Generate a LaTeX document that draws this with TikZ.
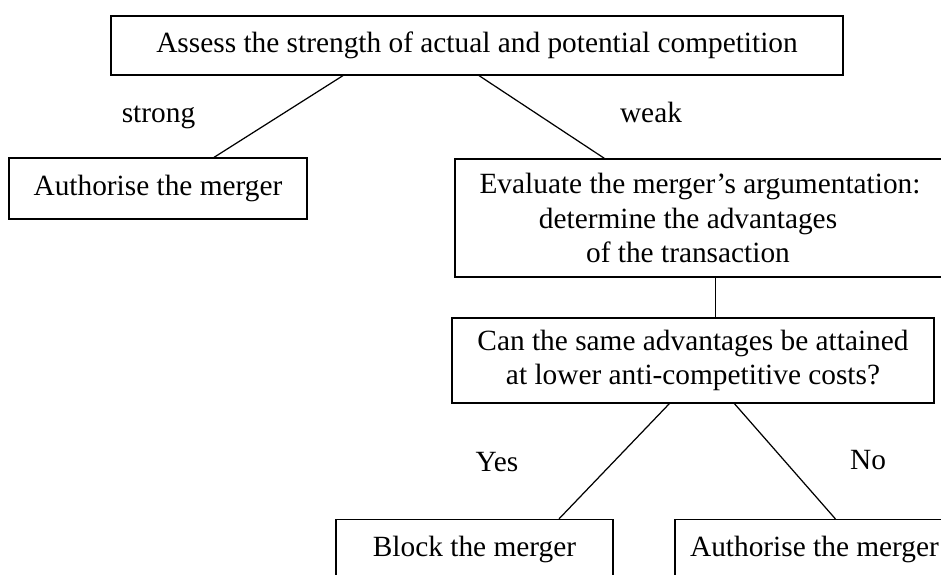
\documentclass[tikz,border=0pt]{standalone}
\usepackage{fontspec}
\setmainfont{Liberation Serif}

\begin{document}
\begin{tikzpicture}[font=\fontsize{16.7}{19.4}\selectfont, line width=0.7pt,
  box/.style={draw,rectangle,inner sep=0pt,align=center},
  edgelabel/.style={anchor=base}]
\useasboundingbox (0,0) rectangle (18.82,11.5);
\clip (0,0) rectangle (18.82,11.5);
\draw (9.54,10.59) node[box,minimum width=14.64cm,minimum height=1.18cm](assess) {Assess the strength of actual and potential competition};
\draw (3.16,7.73) node[box,minimum width=5.96cm,minimum height=1.22cm](authleft) {Authorise the merger};
\draw (14.0,7.14) node[box,minimum width=9.8cm,minimum height=2.36cm](evaluate) {Evaluate the merger's argumentation:\\ determine the advantages\rule{0.48cm}{0pt}\\ of the transaction\rule{0.48cm}{0pt}};
\draw (13.86,4.29) node[box,minimum width=9.64cm,minimum height=1.70cm](can) {Can the same advantages be attained\\ at lower anti-competitive costs?};
\draw (9.49,0.51) node[box,minimum width=5.54cm,minimum height=1.2cm](block) {Block the merger};
\draw (16.29,0.51) node[box,minimum width=5.58cm,minimum height=1.2cm](authright) {Authorise the merger};
\draw (3.17,9.04) node[edgelabel](strong) {strong};
\draw (13.02,9.04) node[edgelabel](weak) {weak};
\draw (9.94,2.06) node[edgelabel](yes) {Yes};
\draw (17.36,2.1) node[edgelabel](no) {No};
\draw ([xshift=-2.68cm]assess.south) -- ([xshift=1.12cm]authleft.north);
\draw ([xshift=0.04cm]assess.south) -- ([xshift=3cm]evaluate.north west);
\draw ([xshift=5.22cm]evaluate.south west) -- ([xshift=5.22cm]evaluate.south west |- can.north);
\draw ([xshift=4.36cm]can.south west) -- ([xshift=1.69cm]block.north);
\draw ([xshift=5.66cm]can.south west) -- ([xshift=3.22cm]authright.north west);
\end{tikzpicture}
\end{document}
